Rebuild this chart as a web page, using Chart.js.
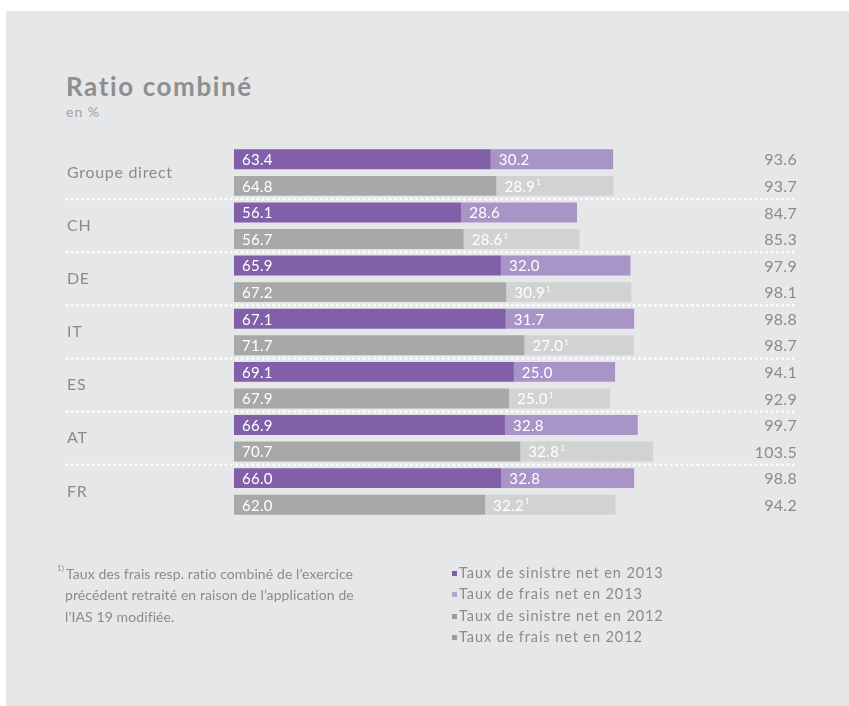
<!DOCTYPE html>
<html lang="fr">
<head>
    <meta charset="UTF-8">
    <title>Ratio combiné</title>
    <script src="https://cdn.jsdelivr.net/npm/chart.js"></script>
    <style>
        body { margin: 0; background: #fff; font-family: Lato, "Open Sans", sans-serif; }
        /* panneau gris */
        #panel { position: absolute; left: 6px; top: 11px; width: 843px; height: 695px; background: #E6E7E9; }
        #chart { position: absolute; left: 0; top: 0; }
        .txt { position: absolute; color: #8B8B8D; }
        #title { left: 66px; top: 70px; font-size: 26px; font-weight: bold; letter-spacing: 1.6px; color: #8E8E90; }
        #sub { left: 66px; top: 103px; font-size: 14px; letter-spacing: 1px; color: #A3A3A5; }
        #note { left: 57px; top: 560px; font-size: 14px; letter-spacing: 0.1px; line-height: 21.5px; width: 360px; }
        #note sup { font-size: 8px; position: relative; top: -2px; margin-right: 2px; }
        #note .ind { padding-left: 8px; }
        #legend { left: 452px; top: 562px; font-size: 14.5px; letter-spacing: 0.9px; line-height: 21.3px; }
        #legend span.box { display: inline-block; width: 5px; height: 5px; margin-right: 2px; vertical-align: 2px; }
    </style>
</head>
<body>
    <div id="panel"></div>
    <div class="txt" id="title">Ratio combiné</div>
    <div class="txt" id="sub">en %</div>
    <canvas id="chart" width="849" height="706"></canvas>
    <div class="txt" id="note">
        <sup>1)</sup>Taux des frais resp. ratio combiné de l’exercice<br>
        <span class="ind">précédent retraité en raison de l’application de</span><br>
        <span class="ind">l’IAS 19 modifiée.</span>
    </div>
    <div class="txt" id="legend"></div>

    <script>
        // données (en %)
        var groups = ['Groupe direct', 'CH', 'DE', 'IT', 'ES', 'AT', 'FR'];
        var loss2013 = [63.4, 56.1, 65.9, 67.1, 69.1, 66.9, 66.0];
        var cost2013 = [30.2, 28.6, 32.0, 31.7, 25.0, 32.8, 32.8];
        var loss2012 = [64.8, 56.7, 67.2, 71.7, 67.9, 70.7, 62.0];
        var cost2012 = [28.9, 28.6, 30.9, 27.0, 25.0, 32.8, 32.2];
        var total2013 = [93.6, 84.7, 97.9, 98.8, 94.1, 99.7, 98.8];
        var total2012 = [93.7, 85.3, 98.1, 98.7, 92.9, 103.5, 94.2];
        var seriesNames = ['Taux de sinistre net en 2013', 'Taux de frais net en 2013',
                           'Taux de sinistre net en 2012', 'Taux de frais net en 2012'];

        var barColors = ['#8160A9', '#A994C7', '#A7A8AA', '#D1D2D3'];
        var legendColors = ['#7F5FA8', '#B4A3CF', '#9A9A9C', '#9A9A9C'];
        var textGray = '#8B8B8D';

        // étiquettes, totaux, séparateurs pointillés
        var labelPlugin = {
            id: 'labels',
            afterDatasetsDraw: function (chart) {
                var ctx = chart.ctx;
                var area = chart.chartArea;
                var m = [0, 1, 2, 3].map(function (i) { return chart.getDatasetMeta(i).data; });
                ctx.save();
                ctx.textBaseline = 'middle';

                // valeurs dans les barres
                ctx.fillStyle = '#fff';
                ctx.textAlign = 'left';
                ctx.letterSpacing = '0.3px';
                for (var d = 0; d < 4; d++) {
                    var vals = chart.data.datasets[d].data;
                    m[d].forEach(function (bar, j) {
                        var left = Math.min(bar.x, bar.base);
                        var s = vals[j].toFixed(1);
                        ctx.font = '15px Lato';
                        ctx.fillText(s, left + 8, bar.y + 1);
                        if (d === 3) {
                            var w = ctx.measureText(s).width;
                            ctx.font = '8px Lato';
                            ctx.fillText('1', left + 9 + w, bar.y - 3);
                        }
                    });
                }

                // totaux à droite
                ctx.fillStyle = textGray;
                ctx.font = '16px Lato';
                ctx.textAlign = 'right';
                m[0].forEach(function (bar, j) {
                    ctx.fillText(total2013[j].toFixed(1), area.right - 4, bar.y + 1);
                    ctx.fillText(total2012[j].toFixed(1), area.right - 4, m[2][j].y + 1);
                });

                // noms des groupes
                ctx.textAlign = 'left';
                ctx.letterSpacing = '0.7px';
                m[0].forEach(function (bar, j) {
                    ctx.fillText(groups[j], 67, (bar.y + m[2][j].y) / 2);
                });
                ctx.letterSpacing = '0px';

                // séparateurs
                ctx.strokeStyle = '#fff';
                ctx.lineWidth = 2.8;
                ctx.lineCap = 'round';
                ctx.setLineDash([0, 5.3]);
                for (var j = 0; j < groups.length - 1; j++) {
                    var y = (m[2][j].y + m[2][j].height / 2 + m[0][j + 1].y - m[0][j + 1].height / 2) / 2;
                    ctx.beginPath();
                    ctx.moveTo(67, y);
                    ctx.lineTo(797, y);
                    ctx.stroke();
                }
                ctx.restore();
            }
        };

        var ctxChart = document.getElementById('chart').getContext('2d');
        var chart = new Chart(ctxChart, {
            type: 'bar',
            data: {
                labels: groups,
                datasets: [
                    { label: seriesNames[0], data: loss2013, stack: '2013', backgroundColor: barColors[0] },
                    { label: seriesNames[1], data: cost2013, stack: '2013', backgroundColor: barColors[1] },
                    { label: seriesNames[2], data: loss2012, stack: '2012', backgroundColor: barColors[2] },
                    { label: seriesNames[3], data: cost2012, stack: '2012', backgroundColor: barColors[3] }
                ]
            },
            options: {
                indexAxis: 'y',
                responsive: false,
                animation: false,
                categoryPercentage: 1,
                barPercentage: 0.75,
                layout: { padding: { left: 234, right: 48, top: 146, bottom: 188 } },
                plugins: { legend: { display: false }, tooltip: { enabled: false } },
                scales: {
                    x: { stacked: true, min: 0, max: 140, display: false },
                    y: { stacked: true, display: false }
                }
            },
            plugins: [labelPlugin]
        });

        // légende HTML
        var lg = document.getElementById('legend');
        chart.data.datasets.forEach(function (ds, i) {
            var row = document.createElement('div');
            row.innerHTML = '<span class="box" style="background:' + legendColors[i] + '"></span>' + ds.label;
            lg.appendChild(row);
        });
    </script>
</body>
</html>
